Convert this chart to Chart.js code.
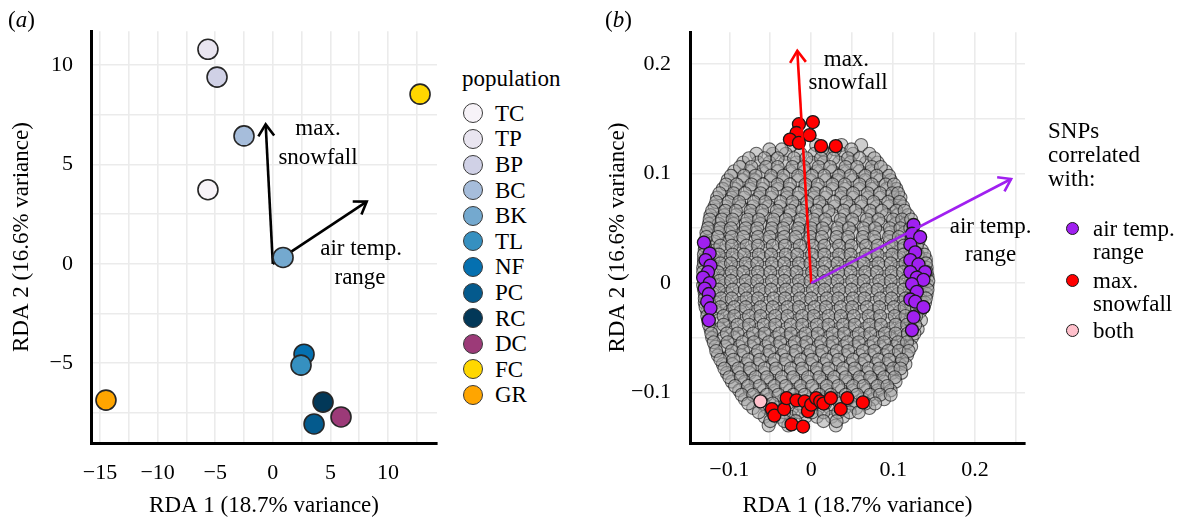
<!DOCTYPE html>
<html>
<head>
<meta charset="utf-8">
<script src="https://cdn.jsdelivr.net/npm/chart.js@4/dist/chart.umd.min.js"></script>
<style>
  html, body { margin: 0; padding: 0; background: #fff; }
  body { width: 1185px; height: 522px; position: relative; overflow: hidden;
         font-family: "Liberation Serif", "Times New Roman", serif; color: #000; }
  canvas { position: absolute; top: 0; }
  #chartA { left: 0; }
  #chartB { left: 590px; }
  .tag { position: absolute; font-size: 23px; line-height: 23px; }
  .txt { position: absolute; font-size: 23px; line-height: 23px; white-space: nowrap; }
  .dot { position: absolute; border-radius: 50%; box-sizing: border-box; }
</style>
</head>
<body>
<canvas id="chartA" width="450" height="522"></canvas>
<canvas id="chartB" width="460" height="522"></canvas>
<div class="tag" style="left:8px;top:8px">(<i>a</i>)</div>
<div class="tag" style="left:605px;top:8px">(<i>b</i>)</div>
<div id="legendA"></div>
<div id="legendB"></div>
<script>
// ---------- panel (a): population scores ----------
const populations = ['TC', 'TP', 'BP', 'BC', 'BK', 'TL', 'NF', 'PC', 'RC', 'DC', 'FC', 'GR'];
const popRDA1 = [-5.63, -5.63, -4.84, -2.5, 0.89, 2.45, 2.71, 3.58, 4.36, 5.92, 12.78, -14.48];
const popRDA2 = [3.73, 10.8, 9.4, 6.44, 0.32, -5.1, -4.55, -8.06, -6.96, -7.71, 8.54, -6.86];
const popColors = ['#f7f3f8', '#e9e5f0', '#d0d1e6', '#a6bddb', '#74a9cf', '#3690c0',
                   '#0570b0', '#045a8d', '#023858', '#9c3a78', '#ffd700', '#ffa500'];
const aTicksX = [-15, -10, -5, 0, 5, 10];
const aTicksY = [-5, 0, 5, 10];
const aGridX = [-15, -12.5, -10, -7.5, -5, -2.5, 0, 2.5, 5, 7.5, 10, 12.5];
const aGridY = [-7.5, -5, -2.5, 0, 2.5, 5, 7.5, 10];
// environmental vectors (RDA1, RDA2)
const aSnowVec = [-0.62, 7.02];
const aTempVec = [8.15, 3.13];

// ---------- panel (b): SNP loadings ----------
const bTicksX = [-0.1, 0, 0.1, 0.2];
const bTicksY = [-0.1, 0, 0.1, 0.2];
const bGridX = [-0.1, -0.05, 0, 0.05, 0.1, 0.15, 0.2, 0.25];
const bGridY = [-0.1, -0.05, 0, 0.05, 0.1, 0.15, 0.2];
const bSnowVec = [-0.017, 0.212];
const bTempVec = [0.244, 0.095];

// SNPs correlated with air temperature range
const tempX = [-0.131, -0.124, -0.129, -0.123, -0.126, -0.132, -0.124, -0.130, -0.125, -0.127, -0.123, -0.125,
               0.125, 0.123, 0.133, 0.121, 0.127, 0.121, 0.131, 0.139, 0.121, 0.129, 0.137, 0.123, 0.129, 0.121, 0.127, 0.137, 0.125, 0.123];
const tempY = [0.037, 0.027, 0.021, 0.016, 0.010, 0.005, 0.000, -0.005, -0.010, -0.017, -0.023, -0.034,
               0.053, 0.045, 0.042, 0.035, 0.028, 0.021, 0.017, 0.010, 0.010, 0.005, 0.003, -0.001, -0.008, -0.015, -0.017, -0.022, -0.031, -0.043];
// SNPs correlated with maximum snowfall
const snowX = [-0.015, 0.002, -0.018, -0.002, -0.026, -0.015, 0.012, 0.030,
               -0.048, -0.045, -0.033, -0.030, -0.018, -0.008, -0.004, 0.000, 0.006, 0.011, 0.015, 0.024, 0.036, 0.044, 0.063, -0.024, -0.010];
const snowY = [0.145, 0.147, 0.137, 0.135, 0.131, 0.128, 0.125, 0.125,
               -0.115, -0.121, -0.115, -0.105, -0.107, -0.108, -0.117, -0.111, -0.105, -0.108, -0.110, -0.105, -0.115, -0.105, -0.109, -0.129, -0.131];
// SNPs correlated with both
const bothX = [-0.062];
const bothY = [-0.108];
// remaining SNPs, by row (values in thousandths)
const otherRowY = [126, 118, 110, 102, 94, 86, 78, 70, 62, 54, 46, 38, 30, 22, 14, 6, -2, -10, -18, -26,
                   -34, -42, -50, -58, -66, -74, -82, -90, -98, -106, -114, -122, -130,
                   122, 114, 106, 98, 90, 82, 74, 66, 58, 50, 42, 34, 26, 18, 10, 2, -6, -14, -22,
                   -30, -38, -46, -54, -62, -70, -78, -86, -94, -102, -110, -118, -126];
const otherRowX = [
  [-24, 6, 37, 61],
  [-67, -47, -31, -13, 4, 18, 37, 51, 71],
  [-83, -65, -51, -32, -18, 1, 15, 34, 48, 67, 81],
  [-94, -75, -60, -41, -26, -8, 7, 26, 40, 59, 73, 91],
  [-102, -84, -69, -50, -35, -16, -1, 18, 32, 51, 66, 84, 97],
  [-108, -93, -75, -60, -41, -27, -8, 7, 26, 41, 59, 74, 92, 104],
  [-115, -97, -82, -64, -49, -30, -16, 3, 17, 36, 51, 69, 84, 102, 109],
  [-118, -104, -86, -71, -52, -38, -19, -5, 14, 29, 47, 62, 80, 95, 112],
  [-123, -106, -92, -74, -59, -41, -26, -7, 8, 26, 41, 59, 74, 92, 105, 118],
  [-125, -113, -95, -80, -62, -47, -29, -14, 5, 19, 38, 52, 71, 85, 103, 115],
  [-128, -113, -100, -82, -67, -49, -34, -16, -1, 17, 32, 50, 65, 83, 97, 114, 125],
  [-129, -118, -101, -87, -69, -54, -36, -21, -3, 12, 30, 45, 63, 78, 96, 109, 124, 131],
  [-130, -117, -105, -87, -73, -54, -40, -21, -7, 12, 26, 45, 59, 78, 92, 109, 121, 135],
  [-131, -120, -104, -90, -72, -58, -39, -25, -6, 8, 27, 41, 60, 74, 92, 106, 122, 134, 140],
  [-132, -119, -107, -89, -75, -56, -42, -23, -9, 9, 24, 42, 57, 75, 89, 107, 119, 134, 141],
  [-131, -121, -105, -91, -73, -59, -40, -26, -8, 7, 25, 39, 58, 72, 90, 104, 121, 132, 142],
  [-132, -118, -106, -88, -74, -56, -41, -23, -9, 10, 24, 42, 57, 75, 89, 107, 120, 135, 142],
  [-130, -120, -103, -89, -71, -57, -38, -24, -6, 9, 27, 41, 60, 74, 92, 106, 122, 133, 141],
  [-130, -117, -104, -86, -72, -54, -39, -21, -6, 12, 26, 45, 59, 77, 91, 109, 121, 135, 139],
  [-127, -117, -100, -86, -68, -54, -36, -21, -3, 11, 30, 44, 62, 76, 94, 108, 123, 133],
  [-126, -113, -100, -82, -68, -50, -36, -17, -3, 15, 29, 47, 61, 79, 93, 110, 121, 134],
  [-123, -112, -96, -82, -64, -50, -31, -17, 1, 15, 33, 47, 65, 79, 96, 109, 123, 130],
  [-121, -107, -94, -76, -62, -44, -30, -12, 2, 20, 34, 52, 65, 83, 96, 112, 123],
  [-117, -105, -88, -74, -56, -42, -24, -10, 8, 22, 39, 53, 71, 84, 101, 112, 122],
  [-114, -99, -86, -68, -54, -36, -22, -4, 10, 27, 41, 59, 72, 89, 102, 117],
  [-108, -96, -79, -65, -47, -33, -15, -1, 16, 30, 48, 61, 79, 92, 108, 115],
  [-103, -88, -75, -57, -43, -25, -11, 7, 20, 38, 52, 69, 83, 99, 110],
  [-97, -81, -68, -50, -36, -18, -4, 14, 27, 45, 59, 76, 89, 103],
  [-88, -75, -58, -44, -26, -12, 6, 19, 37, 51, 68, 81, 97],
  [-81, -64, -51, -33, -19, -1, 13, 31, 45, 63, 76, 89],
  [-71, -54, -41, -23, -9, 9, 23, 41, 55, 71],
  [-57, -39, -25, -7, 7, 25, 39],
  [-52, -28, 30],
  [-51, -36, 13, 29, 49],
  [-76, -57, -41, -21, -6, 12, 27, 45, 59, 77],
  [-87, -73, -55, -41, -23, -9, 9, 23, 42, 56, 74, 85],
  [-98, -82, -68, -49, -34, -16, 1, 16, 34, 48, 66, 80, 95],
  [-104, -91, -73, -59, -41, -26, -7, 8, 26, 41, 59, 74, 91, 101],
  [-112, -95, -81, -62, -48, -29, -15, 4, 18, 37, 51, 69, 84, 99, 106],
  [-116, -101, -88, -70, -56, -37, -23, -5, 10, 28, 43, 61, 76, 94, 108],
  [-121, -105, -92, -74, -60, -42, -25, -11, 7, 21, 40, 54, 72, 86, 104, 114],
  [-124, -109, -96, -78, -64, -46, -31, -13, 3, 17, 36, 50, 68, 82, 100, 111, 122],
  [-126, -111, -98, -80, -66, -48, -34, -16, 0, 14, 32, 46, 64, 78, 96, 109, 121],
  [-128, -114, -97, -83, -65, -51, -33, -19, -1, 13, 31, 45, 63, 77, 95, 107, 123, 132],
  [-130, -111, -97, -79, -65, -47, -32, -14, 2, 16, 34, 49, 67, 81, 99, 113, 129],
  [-131, -113, -96, -82, -64, -49, -31, -17, 1, 16, 34, 48, 67, 81, 99, 113, 130, 138],
  [-131, -111, -98, -80, -66, -48, -33, -15, -1, 17, 32, 50, 64, 82, 97, 115, 127, 140],
  [-132, -114, -97, -83, -65, -50, -32, -18, 1, 15, 33, 48, 66, 80, 98, 112, 128, 141],
  [-131, -112, -98, -80, -66, -48, -33, -15, -1, 17, 32, 50, 64, 83, 97, 115, 127, 143],
  [-131, -113, -96, -81, -63, -49, -31, -16, 2, 16, 34, 49, 67, 81, 99, 113, 129, 142],
  [-130, -110, -97, -79, -65, -46, -32, -14, 0, 19, 33, 51, 65, 84, 98, 115, 127, 140],
  [-129, -111, -94, -80, -62, -47, -29, -15, 4, 18, 36, 50, 68, 83, 101, 114, 129, 137],
  [-127, -107, -94, -76, -62, -44, -29, -11, 3, 21, 36, 52, 70, 84, 102, 115, 128],
  [-125, -107, -90, -76, -58, -44, -25, -11, 7, 21, 39, 53, 71, 85, 103, 117, 127],
  [-122, -103, -90, -71, -57, -39, -25, -7, 8, 26, 40, 58, 72, 90, 103, 118, 126],
  [-119, -102, -84, -70, -52, -38, -20, -6, 12, 26, 44, 58, 76, 89, 106, 117],
  [-116, -97, -83, -65, -51, -33, -19, -1, 13, 31, 45, 63, 77, 94, 107, 119],
  [-111, -95, -77, -63, -45, -31, -13, 1, 19, 33, 51, 65, 82, 95, 111],
  [-106, -89, -75, -57, -43, -25, -11, 7, 21, 39, 53, 70, 83, 100, 109],
  [-100, -86, -68, -54, -36, -22, -4, 10, 28, 42, 59, 72, 89, 102],
  [-93, -77, -63, -45, -31, -13, 1, 19, 33, 51, 64, 81, 93],
  [-85, -71, -54, -40, -22, -8, 10, 24, 42, 56, 72, 84, 97],
  [-77, -59, -47, -29, -15, 3, 17, 35, 49, 66, 78],
  [-64, -47, -33, -15, 1, 15, 33, 47, 58],
  [-50, -33, -19, 15, 31]
];

const SERIF = '"Liberation Serif", "Times New Roman", Times, serif';
Chart.defaults.font.family = SERIF;
Chart.defaults.color = '#000';

const minus = v => String(v).replace('-', '\u2212');

function fixedTicks(values) {
  return scale => { scale.ticks = values.map(v => ({ value: v })); };
}

function axis(opts) {
  return {
    type: 'linear',
    position: opts.position,
    min: opts.min, max: opts.max,
    afterBuildTicks: fixedTicks(opts.grid),
    afterFit: s => { if (opts.position === 'left') s.width = opts.size; else s.height = opts.size; },
    grid: { color: '#ebebeb', lineWidth: 1.6, drawTicks: false },
    border: { display: true, color: '#000', width: 3 },
    ticks: {
      padding: opts.pad,
      font: { size: 22 },
      color: '#000',
      maxRotation: 0,
      autoSkip: false,
      callback: v => opts.labels.some(t => Math.abs(t - v) < 1e-9) ? minus(v) : ''
    },
    title: {
      display: true,
      text: opts.title,
      font: { size: 23 },
      color: '#000',
      padding: opts.titlePad
    }
  };
}

// draws biplot vectors from the origin with open arrowheads, plus their labels
function vectorPlugin(cfg) {
  const draw = chart => {
    const { ctx, scales: { x, y } } = chart;
    const x0 = x.getPixelForValue(0), y0 = y.getPixelForValue(0);
    ctx.save();
    cfg.arrows.forEach(a => {
      const x1 = x.getPixelForValue(a.vec[0]), y1 = y.getPixelForValue(a.vec[1]);
      const ang = Math.atan2(y1 - y0, x1 - x0);
      ctx.strokeStyle = a.color;
      ctx.lineWidth = cfg.width;
      ctx.lineCap = 'butt';
      ctx.lineJoin = 'miter';
      ctx.beginPath();
      ctx.moveTo(x0, y0);
      ctx.lineTo(x1, y1);
      ctx.stroke();
      ctx.beginPath();
      ctx.moveTo(x1 - cfg.head * Math.cos(ang - 0.6), y1 - cfg.head * Math.sin(ang - 0.6));
      ctx.lineTo(x1, y1);
      ctx.lineTo(x1 - cfg.head * Math.cos(ang + 0.6), y1 - cfg.head * Math.sin(ang + 0.6));
      ctx.stroke();
    });
    ctx.fillStyle = '#000';
    ctx.font = '23px ' + SERIF;
    ctx.textAlign = 'center';
    ctx.textBaseline = 'middle';
    cfg.labels.forEach(l => ctx.fillText(l.text, x.getPixelForValue(l.at[0]), y.getPixelForValue(l.at[1])));
    ctx.restore();
  };
  return {
    id: 'vectors',
    beforeDatasetsDraw(chart) { if (cfg.under) draw(chart); },
    afterDatasetsDraw(chart) { if (!cfg.under) draw(chart); }
  };
}

// ---------- chart (a) ----------
new Chart(document.getElementById('chartA'), {
  type: 'scatter',
  data: {
    datasets: populations.map((p, i) => ({
      label: p,
      data: [{ x: popRDA1[i], y: popRDA2[i] }],
      backgroundColor: popColors[i],
      borderColor: '#262626',
      borderWidth: 1.6,
      pointRadius: 10,
      pointHoverRadius: 10
    }))
  },
  options: {
    responsive: false,
    animation: false,
    devicePixelRatio: 1,
    layout: { padding: { left: 0, top: 30, right: 13, bottom: 0 } },
    plugins: { legend: { display: false }, tooltip: { enabled: false } },
    events: [],
    scales: {
      x: axis({ position: 'bottom', min: -15.78, max: 14.25, grid: aGridX, labels: aTicksX, size: 79, pad: 17,
                title: 'RDA 1 (18.7% variance)', titlePad: { top: 0, bottom: 2 } }),
      y: axis({ position: 'left', min: -9.02, max: 11.71, grid: aGridY, labels: aTicksY, size: 91, pad: 18,
                title: 'RDA 2 (16.6% variance)', titlePad: { top: 8, bottom: 0 } })
    }
  },
  plugins: [vectorPlugin({
    under: true, width: 2.6, head: 14,
    arrows: [{ vec: aSnowVec, color: '#000' }, { vec: aTempVec, color: '#000' }],
    labels: [
      { text: 'max.', at: [3.92, 6.79] }, { text: 'snowfall', at: [3.92, 5.33] },
      { text: 'air temp.', at: [7.66, 0.77] }, { text: 'range', at: [7.57, -0.69] }
    ]
  })]
});

// ---------- chart (b) ----------
const otherPts = otherRowY.flatMap((yv, i) => otherRowX[i].map(xv => ({ x: xv / 1000, y: yv / 1000 })));
const pts = (xs, ys) => xs.map((v, i) => ({ x: v, y: ys[i] }));
const snpStyle = (fill) => ({
  backgroundColor: fill, borderColor: '#1a1a1a', borderWidth: 1.3, pointRadius: 6.5, pointHoverRadius: 6.5
});

new Chart(document.getElementById('chartB'), {
  type: 'scatter',
  data: {
    datasets: [
      Object.assign({ label: 'both', data: pts(bothX, bothY) }, snpStyle('#ffc0cb')),
      Object.assign({ label: 'max. snowfall', data: pts(snowX, snowY) }, snpStyle('#ff0000')),
      Object.assign({ label: 'air temp. range', data: pts(tempX, tempY) }, snpStyle('#a020f0')),
      { label: 'other', data: otherPts, backgroundColor: 'rgba(165,165,165,0.55)',
        borderColor: 'rgba(15,15,15,0.62)', borderWidth: 1.1, pointRadius: 6.5, pointHoverRadius: 6.5 }
    ]
  },
  options: {
    responsive: false,
    animation: false,
    devicePixelRatio: 1,
    layout: { padding: { left: 0, top: 30, right: 25, bottom: 0 } },
    plugins: { legend: { display: false }, tooltip: { enabled: false } },
    events: [],
    scales: {
      x: axis({ position: 'bottom', min: -0.148, max: 0.261, grid: bGridX, labels: bTicksX, size: 79, pad: 14,
                title: 'RDA 1 (18.7% variance)', titlePad: { top: 0, bottom: 2 } }),
      y: axis({ position: 'left', min: -0.146, max: 0.229, grid: bGridY, labels: bTicksY, size: 100, pad: 19,
                title: 'RDA 2 (16.6% variance)', titlePad: { top: 14, bottom: 0 } })
    }
  },
  plugins: [vectorPlugin({
    under: false, width: 2.6, head: 14,
    arrows: [{ vec: bSnowVec, color: '#ff0000' }, { vec: bTempVec, color: '#a020f0' }],
    labels: [
      { text: 'max.', at: [0.043, 0.204] }, { text: 'snowfall', at: [0.045, 0.183] },
      { text: 'air temp.', at: [0.219, 0.051] }, { text: 'range', at: [0.219, 0.026] }
    ]
  })]
});

// ---------- legends ----------
function addText(parent, text, left, centerY) {
  const d = document.createElement('div');
  d.className = 'txt';
  d.textContent = text;
  d.style.left = left + 'px';
  d.style.top = (centerY - 11.5) + 'px';
  parent.appendChild(d);
}
function addDot(parent, cx, cy, d, fill, border, bw) {
  const s = document.createElement('div');
  s.className = 'dot';
  s.style.left = (cx - d / 2) + 'px';
  s.style.top = (cy - d / 2) + 'px';
  s.style.width = d + 'px';
  s.style.height = d + 'px';
  s.style.background = fill;
  s.style.border = bw + 'px solid ' + border;
  parent.appendChild(s);
}

const legA = document.getElementById('legendA');
addText(legA, 'population', 462, 78);
populations.forEach((p, i) => {
  const cy = 113.3 + 25.6 * i;
  addDot(legA, 473, cy, 20, popColors[i], '#3a3a3a', 1.6);
  addText(legA, p, 495, cy);
});

const legB = document.getElementById('legendB');
addText(legB, 'SNPs', 1048, 130);
addText(legB, 'correlated', 1048, 154);
addText(legB, 'with:', 1048, 178);
const snpLegend = [
  { lines: ['air temp.', 'range'], fill: '#a020f0', y: 228 },
  { lines: ['max.', 'snowfall'], fill: '#ff0000', y: 280 },
  { lines: ['both'], fill: '#ffc0cb', y: 330 }
];
snpLegend.forEach(it => {
  addDot(legB, 1072, it.y, 13, it.fill, '#1a1a1a', 1.3);
  it.lines.forEach((t, k) => addText(legB, t, 1093, it.y + 23 * k));
});
</script>
</body>
</html>
